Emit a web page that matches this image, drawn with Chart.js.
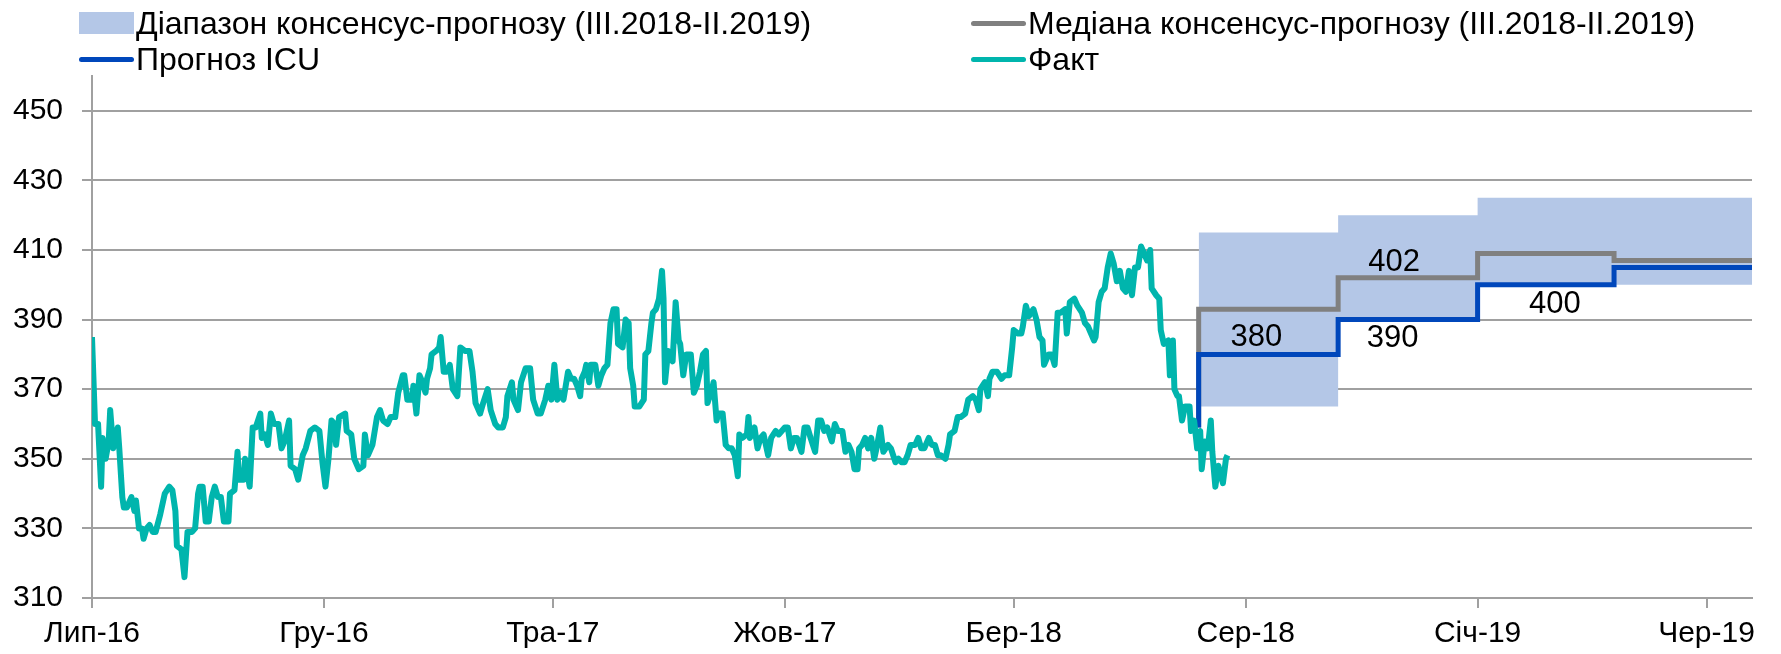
<!DOCTYPE html>
<html>
<head>
<meta charset="utf-8">
<script src="https://cdn.jsdelivr.net/npm/chart.js@4.4.1/dist/chart.umd.min.js"></script>
<style>
body { margin: 0; background: #fff; }
#wrap { position: relative; width: 1781px; height: 654px; }
#legend { position: absolute; left: 0; top: 0; font-family: "Liberation Sans", Arial, sans-serif; font-size: 32px; color: #000; }
.item { position: absolute; display: flex; align-items: center; white-space: nowrap; height: 34px; }
.sw { width: 55px; margin-right: 2px; }
</style>
</head>
<body>
<div id="wrap">
  <canvas id="myChart" width="1781" height="654"></canvas>
  <div id="legend"></div>
</div>
<script>
// x values are days since 1 Jul 2016
var tickDays = [0, 153, 304, 457, 608, 761, 914, 1065];
var tickLabels = ['Лип-16', 'Гру-16', 'Тра-17', 'Жов-17', 'Бер-18', 'Сер-18', 'Січ-19', 'Чер-19'];
var yTicks = [310, 330, 350, 370, 390, 410, 430, 450];

var seriesNames = [
  'Діапазон консенсус-прогнозу (III.2018-II.2019)',
  'Медіана консенсус-прогнозу (III.2018-II.2019)',
  'Прогноз ICU',
  'Факт'
];

// quarters III.2018 .. II.2019 (start days, last one = end)
var quarterStart = [730, 822, 914, 1004, 1095];
var bandLow = [365, 390, 400, 400];
var bandHigh = [415, 420, 425, 425];
var median = [393, 402, 409, 407];
var icu = [380, 390, 400, 405];
var forecastFrom = 359;

var factDay = [
  0, 2, 4, 6, 7, 9, 11, 12, 14, 15, 17, 18, 20, 21, 23, 26, 28, 29, 31, 33,
  34, 36, 38, 40, 42, 45, 48, 51, 53, 55, 56, 59, 61, 63, 66, 68, 70, 71, 73, 75,
  77, 79, 81, 83, 85, 87, 90, 91, 94, 96, 97, 100, 101, 104, 106, 108, 111, 112, 114, 116,
  118, 120, 123, 125, 127, 130, 131, 134, 136, 139, 141, 144, 147,
  150, 152, 154, 156, 158, 160, 161, 163, 167, 168, 171, 173, 176, 179, 180, 182, 185, 188, 190, 192,
  195, 197, 200, 202, 205, 206, 208, 211, 212, 214, 216, 217, 220, 221, 223, 224, 227, 229, 230, 232,
  234, 236, 238, 241, 243, 246, 249, 251, 253, 256, 258, 261, 263, 266, 268, 271, 273, 274, 277, 278,
  281, 283, 286, 289, 291, 294, 296,
  299, 301, 303, 305, 307, 309, 311, 314, 316, 318, 320, 322, 323, 325, 326, 328, 329, 332, 334, 336,
  338, 340, 342, 344, 346, 347, 350, 352, 354, 355, 357, 358, 361, 364, 365, 367, 369, 370, 372, 374,
  376, 377, 378, 380, 383, 385, 387, 388, 390, 392, 395, 397, 399, 401, 403, 405, 406, 409, 410, 412,
  413, 416, 418, 420, 422, 424, 426, 427, 429, 432, 433, 434, 437, 439, 441, 443, 446, 448, 451,
  453, 455, 457, 459, 461, 463, 465, 468, 470, 472, 474, 477, 479, 481, 483, 485, 488, 490, 492, 495,
  497, 499, 501, 503, 505, 506, 508, 510, 512, 514, 516, 518, 520, 522, 525, 527, 530, 532, 534, 536,
  538, 540, 543, 545, 547, 549, 552, 554, 556, 558, 560, 563, 565, 566, 569, 571, 573, 576, 578, 581,
  583, 585, 586, 589, 591, 592, 594, 597, 600, 602, 605, 607, 608,
  611, 613, 614, 616, 618, 621, 623, 625, 627, 628, 631, 633, 635, 637, 639, 642, 643, 645, 648, 650,
  653, 655, 657, 659, 661, 662, 664, 666, 668, 670, 672, 674, 676, 678, 680, 682, 684, 686, 688, 690,
  692, 694, 696, 698, 699, 702, 704, 705, 707, 710, 711, 713, 714, 716, 717, 719, 721, 724, 725, 727,
  729, 731, 732, 734, 736, 738, 739, 741, 743, 746, 748, 749
];
var factValue = [
  385, 360, 360, 342, 356, 350, 355, 364, 353, 356, 359, 353, 339, 336, 336, 339, 335, 338, 330, 330,
  327, 330, 331, 329, 329, 334, 340, 342, 341, 335, 325, 324, 316, 329, 329, 330, 340, 342, 342, 332,
  332, 339, 342, 339, 339, 332, 332, 340, 341, 352, 344, 344, 350, 342, 359, 359, 363, 356, 357, 354,
  363, 360, 360, 353, 355, 361, 348, 347, 344, 351, 353, 358, 359,
  358, 349, 342, 350, 361, 360, 354, 362, 363, 358, 357, 350, 347, 348, 357, 351, 354, 362, 364, 361,
  360, 362, 362, 369, 374, 374, 367, 367, 371, 363, 374, 373, 369, 373, 376, 380, 381, 382, 385, 375,
  375, 377, 370, 368, 382, 381, 381, 375, 366, 363, 366, 370, 364, 360, 359, 359, 362, 368, 372, 367,
  364, 372, 376, 376, 367, 363, 363,
  367, 371, 367, 377, 367, 369, 367, 375, 373, 373, 371, 368, 373, 375, 377, 372, 377, 377, 371, 374,
  376, 377, 389, 393, 393, 383, 382, 390, 389, 376, 371, 365, 365, 367, 380, 381, 389, 392, 393, 396,
  404, 396, 372, 381, 378, 395, 384, 383, 374, 380, 380, 369, 371, 375, 380, 381, 366, 370, 372, 361,
  363, 363, 354, 353, 353, 351, 345, 357, 356, 357, 362, 356, 359, 353, 356, 357, 351, 356, 358,
  357, 358, 359, 359, 353, 356, 356, 352, 359, 359, 356, 352, 361, 361, 358, 359, 355, 360, 358, 358,
  352, 354, 352, 347, 347, 353, 354, 356, 353, 356, 350, 354, 359, 352, 354, 353, 349, 350, 349, 349,
  351, 354, 354, 356, 353, 353, 356, 354, 354, 351, 351, 350, 354, 357, 358, 362, 362, 363, 367, 368,
  367, 364, 370, 372, 368, 373, 375, 375, 373, 374, 374, 382, 387,
  386, 386, 388, 394, 391, 393, 390, 385, 384, 377, 380, 380, 377, 392, 392, 393, 386, 395, 396, 394,
  392, 389, 388, 386, 384, 385, 395, 398, 399, 405, 409, 406, 401, 404, 399, 398, 404, 397, 405, 405,
  411, 409, 407, 410, 399, 397, 396, 387, 383, 384, 374, 384, 370, 368, 368, 361, 365, 365, 358, 361,
  353, 358, 347, 355, 353, 361, 352, 342, 348, 343, 350, 351
];

// value labels on the forecast steps
var labelTexts = ['380', '390', '402', '400'];
var labelDays = [768, 858, 859, 965];
var labelValues = [385, 384.7, 406.4, 394.3];

var colBand = '#b4c7e7';
var colMedian = '#808080';
var colIcu = '#0047bb';
var colFact = '#00b5ad';

function stepLine(values, start) {
  var pts = [];
  if (start != null) pts.push({x: quarterStart[0], y: start});
  for (var i = 0; i < values.length; i++) {
    pts.push({x: quarterStart[i], y: values[i]});
    pts.push({x: quarterStart[i + 1], y: values[i]});
  }
  return pts;
}

var factPoints = factDay.map(function(d, i) { return {x: d, y: factValue[i]}; });

var valueLabels = {
  id: 'valueLabels',
  afterDatasetsDraw: function(chart) {
    var ctx = chart.ctx, xs = chart.scales.x, ys = chart.scales.y;
    ctx.save();
    ctx.font = '31px "Liberation Sans", Arial, sans-serif';
    ctx.fillStyle = '#000';
    ctx.textAlign = 'center';
    ctx.textBaseline = 'middle';
    for (var i = 0; i < labelTexts.length; i++) {
      ctx.fillText(labelTexts[i], xs.getPixelForValue(labelDays[i]), ys.getPixelForValue(labelValues[i]));
    }
    ctx.restore();
  }
};

Chart.defaults.font.family = '"Liberation Sans", Arial, sans-serif';
Chart.defaults.color = '#000';

var ctx = document.getElementById('myChart');
var myChart = new Chart(ctx, {
  type: 'line',
  data: {
    datasets: [
      {
        label: 'low',
        data: stepLine(bandLow),
        borderWidth: 0,
        borderColor: 'rgba(0,0,0,0)',
        pointRadius: 0,
        fill: false,
        order: 5
      },
      {
        label: seriesNames[0],
        data: stepLine(bandHigh),
        borderWidth: 0,
        borderColor: 'rgba(0,0,0,0)',
        backgroundColor: colBand,
        pointRadius: 0,
        fill: {target: 0},
        order: 4
      },
      {
        label: seriesNames[1],
        data: stepLine(median, forecastFrom),
        borderColor: colMedian,
        borderWidth: 5,
        pointRadius: 0,
        fill: false,
        order: 3
      },
      {
        label: seriesNames[2],
        data: stepLine(icu, forecastFrom),
        borderColor: colIcu,
        borderWidth: 5,
        pointRadius: 0,
        fill: false,
        order: 2
      },
      {
        label: seriesNames[3],
        data: factPoints,
        borderColor: colFact,
        borderWidth: 6,
        borderJoinStyle: 'round',
        pointRadius: 0,
        fill: false,
        order: 1
      }
    ]
  },
  options: {
    responsive: false,
    animation: false,
    layout: { padding: { top: 76, right: 29, left: 0, bottom: 0 } },
    plugins: {
      legend: { display: false },
      tooltip: { enabled: false }
    },
    scales: {
      x: {
        type: 'linear',
        min: 0,
        max: 1095,
        afterBuildTicks: function(axis) {
          axis.ticks = tickDays.map(function(d) { return {value: d}; });
        },
        afterFit: function(scale) { scale.height = 56; },
        ticks: {
          autoSkip: false,
          maxRotation: 0,
          padding: 8,
          font: { size: 30 },
          callback: function(v) { return tickLabels[tickDays.indexOf(v)]; }
        },
        grid: { drawOnChartArea: false, tickLength: 10, color: '#a0a0a0', lineWidth: 2 },
        border: { color: '#a0a0a0', width: 2 }
      },
      y: {
        min: 310,
        max: 460,
        afterBuildTicks: function(axis) {
          axis.ticks = yTicks.map(function(v) { return {value: v}; });
        },
        afterFit: function(scale) { scale.width = 92; },
        ticks: { padding: 19, font: { size: 30 } },
        grid: { color: '#a0a0a0', lineWidth: 2, tickLength: 10 },
        border: { color: '#a0a0a0', width: 2 }
      }
    }
  },
  plugins: [valueLabels]
});

// html legend, two columns like the original
var legendPos = [[79, 6], [971, 6], [79, 42], [971, 42]];
var legendEl = document.getElementById('legend');
var dsForLegend = myChart.data.datasets.slice(1);
for (var i = 0; i < dsForLegend.length; i++) {
  var ds = dsForLegend[i];
  var item = document.createElement('div');
  item.className = 'item';
  item.style.left = legendPos[i][0] + 'px';
  item.style.top = legendPos[i][1] + 'px';
  var sw = document.createElement('span');
  sw.className = 'sw';
  if (ds.fill) {
    sw.style.height = '22px';
    sw.style.background = ds.backgroundColor;
  } else {
    sw.style.height = '5px';
    sw.style.borderRadius = '3px';
    sw.style.background = ds.borderColor;
  }
  var tx = document.createElement('span');
  tx.textContent = ds.label;
  item.appendChild(sw);
  item.appendChild(tx);
  legendEl.appendChild(item);
}
</script>
</body>
</html>
